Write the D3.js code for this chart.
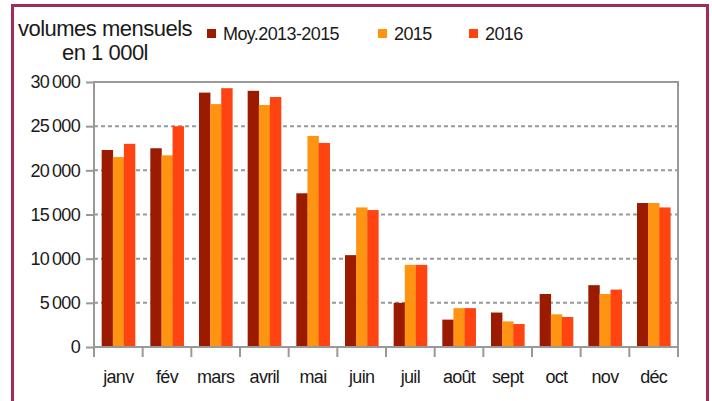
<!DOCTYPE html>
<html>
<head>
<meta charset="utf-8">
<script src="https://cdn.jsdelivr.net/npm/d3@7"></script>
<style>
  body { margin: 0; background: #fff; }
  text { font-family: "Liberation Sans", Arial, sans-serif; fill: #1a1a1a; }
</style>
</head>
<body>
<div id="chart"></div>
<script>
const months = ["janv", "fév", "mars", "avril", "mai", "juin", "juil", "août", "sept", "oct", "nov", "déc"];
const moy = [22300, 22500, 28800, 29000, 17400, 10400, 5000, 3100, 3900, 6000, 7000, 16300];
const y2015 = [21500, 21700, 27500, 27400, 23900, 15800, 9300, 4400, 2900, 3700, 6000, 16300];
const y2016 = [23000, 25000, 29300, 28300, 23100, 15500, 9300, 4400, 2600, 3400, 6500, 15800];
const seriesNames = ["Moy.2013-2015", "2015", "2016"];
const colors = ["#9a1b00", "#ff9412", "#ff4411"];
const yTicks = [0, 5000, 10000, 15000, 20000, 25000, 30000];

const width = 712, height = 401;
const mLeft = 94, mRight = 678, mTop = 82, mBottom = 347;

const svg = d3.select("#chart").append("svg")
    .attr("width", width)
    .attr("height", height);

// outer frame
svg.append("rect")
    .attr("x", 12.5).attr("y", 5.5)
    .attr("width", 695).attr("height", 410)
    .attr("fill", "none")
    .attr("stroke", "#a02b58")
    .attr("stroke-width", 3);

const x = d3.scaleBand().domain(months).range([mLeft, mRight]).padding(0);
const y = d3.scaleLinear().domain([0, 30000]).range([mBottom, mTop]);

const fr = d3.formatLocale({ decimal: ",", thousands: "\u2009", grouping: [3], currency: ["", ""] });
const fmt = fr.format(",d");

// grid
svg.append("g")
    .selectAll("line")
    .data(yTicks.filter(d => d > 0 && d < 30000))
    .join("line")
    .attr("x1", mLeft).attr("x2", mRight)
    .attr("y1", d => y(d)).attr("y2", d => y(d))
    .attr("stroke", "#999")
    .attr("stroke-width", 2)
    .attr("stroke-dasharray", "4,3");

// bars
const groupW = x.bandwidth() * 0.685;
const barW = groupW / 3;
const series = [moy, y2015, y2016];
series.forEach((vals, si) => {
    svg.append("g")
        .attr("fill", colors[si])
        .selectAll("rect")
        .data(vals)
        .join("rect")
        .attr("x", (d, i) => x(months[i]) + (x.bandwidth() - groupW) / 2 + si * barW)
        .attr("y", d => y(d))
        .attr("width", barW + 0.3)
        .attr("height", d => y(0) - y(d));
});

// plot frame
svg.append("path")
    .attr("d", `M${mLeft},${mBottom}V${mTop}H${mRight}V${mBottom}Z`)
    .attr("fill", "none")
    .attr("stroke", "#999")
    .attr("stroke-width", 2);

// y axis
const yAxis = svg.append("g")
    .attr("transform", `translate(${mLeft},0)`)
    .call(d3.axisLeft(y).tickValues(yTicks).tickSize(8).tickPadding(6).tickFormat(fmt));
yAxis.select(".domain").remove();
yAxis.selectAll(".tick line").attr("stroke", "#999").attr("stroke-width", 2);
yAxis.selectAll(".tick text")
    .attr("font-size", 18)
    .attr("letter-spacing", "-0.7px")
    .attr("fill", "#1a1a1a");

// x axis
const xAxis = svg.append("g")
    .attr("transform", `translate(0,${mBottom})`)
    .call(d3.axisBottom(x).tickSize(0).tickPadding(23));
xAxis.select(".domain").remove();
xAxis.selectAll(".tick text")
    .attr("font-size", 18)
    .attr("letter-spacing", "-0.7px")
    .attr("fill", "#1a1a1a");

svg.append("g")
    .selectAll("line")
    .data(months.map(m => x(m)).concat([mRight]))
    .join("line")
    .attr("x1", d => d).attr("x2", d => d)
    .attr("y1", mBottom).attr("y2", mBottom + 10)
    .attr("stroke", "#999")
    .attr("stroke-width", 2);

// title
const title = svg.append("text")
    .attr("text-anchor", "middle")
    .attr("font-size", 22)
    .attr("letter-spacing", "-0.5px");
title.append("tspan").attr("x", 105).attr("y", 36).text("volumes mensuels");
title.append("tspan").attr("x", 105).attr("y", 60).text("en 1 000l");

// legend
const legendX = [207, 378, 469];
const legend = svg.append("g")
    .selectAll("g")
    .data(seriesNames)
    .join("g")
    .attr("transform", (d, i) => `translate(${legendX[i]},29)`);
legend.append("rect")
    .attr("width", 9).attr("height", 9)
    .attr("fill", (d, i) => colors[i]);
legend.append("text")
    .attr("x", 16).attr("y", 11)
    .attr("font-size", 18)
    .attr("letter-spacing", "-0.6px")
    .text(d => d);
</script>
</body>
</html>
